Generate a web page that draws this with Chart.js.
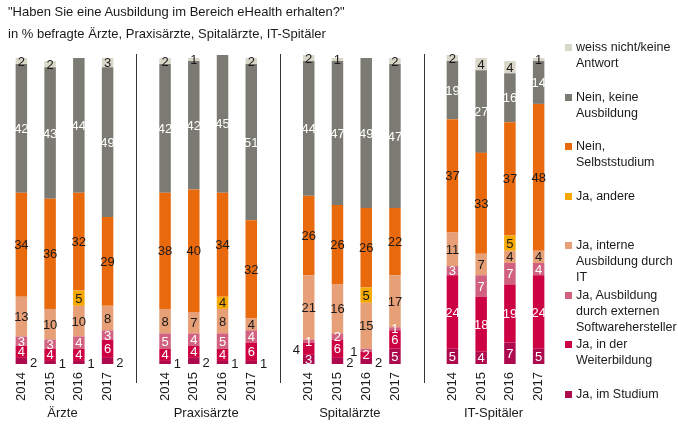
<!DOCTYPE html>
<html>
<head>
<meta charset="utf-8">
<script src="https://cdn.jsdelivr.net/npm/chart.js@4/dist/chart.umd.min.js"></script>
<style>
  body { margin: 0; background: #fff; font-family: "Liberation Sans", Arial, sans-serif; color: #1a1a1a; }
  #wrap { position: relative; width: 678px; height: 425px; }
  canvas { position: absolute; left: 0; top: 0; }
  .title { position: absolute; left: 8px; font-size: 13px; white-space: nowrap; }
  .leg { position: absolute; left: 576px; font-size: 12.5px; line-height: 16px; white-space: pre; }
  .sw { position: absolute; left: -11px; top: 5px; width: 7px; height: 7px; }
</style>
</head>
<body>
<div id="wrap">
  <canvas id="chart" width="678" height="425"></canvas>
  <div class="title" style="top:4px">"Haben Sie eine Ausbildung im Bereich eHealth erhalten?"</div>
  <div class="title" style="top:26px">in % befragte Ärzte, Praxisärzte, Spitalärzte, IT-Spitäler</div>
  <div id="legend"></div>
</div>
<script>
// Gruppen und Jahre
const gruppen = ['Ärzte', 'Praxisärzte', 'Spitalärzte', 'IT-Spitäler'];
const jahre = ['2014', '2015', '2016', '2017'];

// Werte pro Serie, je 4 Jahre pro Gruppe (Ärzte, Praxisärzte, Spitalärzte, IT-Spitäler)
const studium      = [2, 1, 1, 2,   1, 2, 1, 1,   3, 2, 2, 5,   5, 4, 7, 5];
const weiterbild   = [4, 4, 4, 6,   4, 4, 4, 6,   4, 6, 2, 6,   24, 18, 19, 24];
const externSw     = [3, 3, 4, 3,   5, 4, 5, 4,   1, 2, 1, 1,   3, 7, 7, 4];
const internIT     = [13, 10, 10, 8, 8, 7, 8, 4,  21, 16, 15, 17, 11, 7, 4, 4];
const andere       = [0, 0, 5, 0,   0, 0, 4, 0,   0, 0, 5, 0,   0, 0, 5, 0];
const selbst       = [34, 36, 32, 29, 38, 40, 34, 32, 26, 26, 26, 22, 37, 33, 37, 48];
const keine        = [42, 43, 44, 49, 42, 42, 45, 51, 44, 47, 49, 47, 19, 27, 16, 14];
const weissNicht   = [2, 2, 0, 3,   2, 1, 0, 2,   2, 1, 0, 2,   2, 4, 4, 1];

const serien = [
  { name: 'Ja, im Studium', data: studium, farbe: '#ad0a4e', text: '#fff' },
  { name: 'Ja, in der\nWeiterbildung', data: weiterbild, farbe: '#cc0242', text: '#fff' },
  { name: 'Ja, Ausbildung\ndurch externen\nSoftwarehersteller', data: externSw, farbe: '#d0617f', text: '#fff' },
  { name: 'Ja, interne\nAusbildung durch\nIT', data: internIT, farbe: '#e69f76', text: '#1a1a1a' },
  { name: 'Ja, andere', data: andere, farbe: '#f4a800', text: '#1a1a1a' },
  { name: 'Nein,\nSelbststudium', data: selbst, farbe: '#e9690d', text: '#1a1a1a' },
  { name: 'Nein, keine\nAusbildung', data: keine, farbe: '#7c7b73', text: '#fff' },
  { name: 'weiss nicht/keine\nAntwort', data: weissNicht, farbe: '#d8d7c8', text: '#1a1a1a' }
];

// Labels die neben dem Balken stehen: "serie-balken": Seite
const aussen = {
  '0-0': 'r', '0-1': 'r', '0-2': 'r', '0-3': 'r',
  '0-4': 'r', '0-5': 'r', '0-6': 'r', '0-7': 'r',
  '1-8': 'l', '0-9': 'r', '2-10': 'l', '0-10': 'r'
};

// Kategorien mit Lücken zwischen den Gruppen
const labels = [];
const luecken = [];
gruppen.forEach((g, gi) => {
  if (gi > 0) { luecken.push(labels.length); labels.push(''); }
  jahre.forEach(j => labels.push(j));
});
function mitLuecken(arr) {
  const out = [];
  gruppen.forEach((g, gi) => {
    if (gi > 0) out.push(null);
    for (let k = 0; k < 4; k++) out.push(arr[gi * 4 + k]);
  });
  return out;
}

const datasets = serien.map(s => ({
  label: s.name,
  data: mitLuecken(s.data),
  backgroundColor: s.farbe,
  borderWidth: 0,
  categoryPercentage: 0.4,
  barPercentage: 1,
  clip: false
}));

// Legende
const legend = document.getElementById('legend');
serien.slice().reverse().forEach((s, i) => {
  const d = document.createElement('div');
  d.className = 'leg';
  d.style.top = (39 + i * 49.5) + 'px';
  d.textContent = s.name;
  const sw = document.createElement('span');
  sw.className = 'sw';
  sw.style.background = s.farbe;
  d.appendChild(sw);
  legend.appendChild(d);
});

const FONT = '13px "Liberation Sans", Arial, sans-serif';

const werteLabels = {
  id: 'werteLabels',
  afterDatasetsDraw(chart) {
    const ctx = chart.ctx;
    ctx.save();
    ctx.font = FONT;
    ctx.textBaseline = 'middle';
    chart.data.datasets.forEach((ds, si) => {
      const meta = chart.getDatasetMeta(si);
      ds.data.forEach((v, j) => {
        if (!v) return;
        const bar = meta.data[j];
        const { x, y, base, width } = bar.getProps(['x', 'y', 'base', 'width'], true);
        const cy = (y + base) / 2;
        // Index ohne Lücken
        const idx = j - Math.floor(j / 5);
        const seite = aussen[si + '-' + idx];
        if (seite === 'r') {
          ctx.fillStyle = '#1a1a1a';
          ctx.textAlign = 'left';
          ctx.fillText(v, x + width / 2 + 3, cy + 2);
        } else if (seite === 'l') {
          ctx.fillStyle = '#1a1a1a';
          ctx.textAlign = 'right';
          ctx.fillText(v, x - width / 2 - 3, cy + 2);
        } else {
          ctx.fillStyle = serien[si].text;
          ctx.textAlign = 'center';
          ctx.fillText(v, x, cy + 1);
        }
      });
    });
    ctx.restore();
  }
};

const gruppenDeko = {
  id: 'gruppenDeko',
  afterDraw(chart) {
    const ctx = chart.ctx;
    const xs = chart.scales.x;
    ctx.save();
    ctx.strokeStyle = '#333';
    ctx.lineWidth = 1;
    luecken.forEach(i => {
      const px = Math.round(xs.getPixelForValue(i)) + 0.5;
      ctx.beginPath();
      ctx.moveTo(px, 54);
      ctx.lineTo(px, 383);
      ctx.stroke();
    });
    ctx.font = FONT;
    ctx.fillStyle = '#1a1a1a';
    ctx.textAlign = 'center';
    ctx.textBaseline = 'middle';
    gruppen.forEach((g, gi) => {
      const a = xs.getPixelForValue(gi * 5);
      const b = xs.getPixelForValue(gi * 5 + 3);
      ctx.fillText(g, (a + b) / 2 - 2, 413);
    });
    ctx.restore();
  }
};

new Chart(document.getElementById('chart'), {
  type: 'bar',
  data: { labels, datasets },
  options: {
    responsive: false,
    animation: false,
    layout: { padding: { left: 7, right: 125, top: 58, bottom: 0 } },
    plugins: { legend: { display: false }, tooltip: { enabled: false } },
    scales: {
      x: {
        stacked: true,
        grid: { display: false, drawTicks: false },
        border: { display: false },
        ticks: {
          autoSkip: false, maxRotation: 90, minRotation: 90, padding: 8,
          color: '#1a1a1a', font: { family: '"Liberation Sans", Arial, sans-serif', size: 13 }
        },
        afterFit(scale) { scale.height = 61; }
      },
      y: { stacked: true, display: false, min: 0, max: 100 }
    }
  },
  plugins: [werteLabels, gruppenDeko]
});
</script>
</body>
</html>
